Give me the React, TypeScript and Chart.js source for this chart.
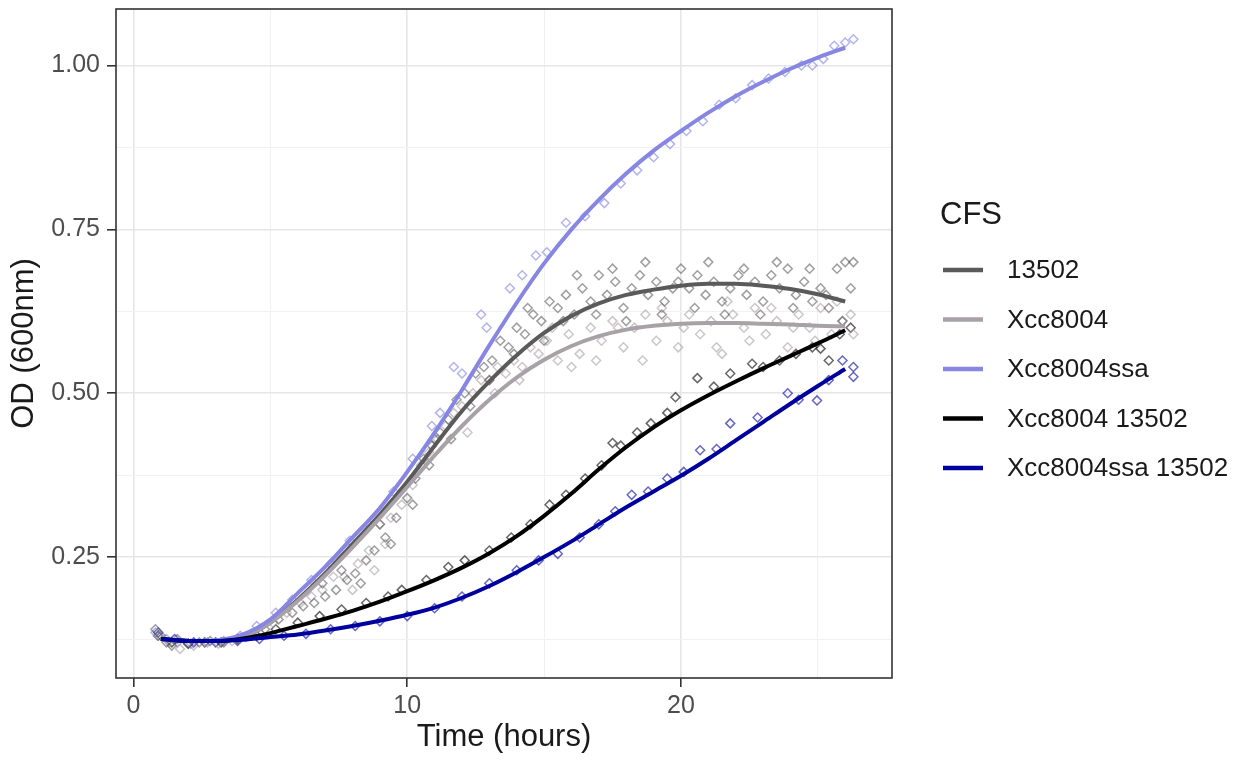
import React, { useEffect, useRef } from 'react';
import { Chart, registerables } from 'chart.js';

Chart.register(...registerables);

const FONT = '"Liberation Sans", Arial, Helvetica, sans-serif';

const seriesNames = ['13502', 'Xcc8004', 'Xcc8004ssa', 'Xcc8004 13502', 'Xcc8004ssa 13502'];
const lineColors = ['#5a5a5a', '#a9a1a8', '#8787e3', '#000000', '#00009e'];
const pointColors = [
  'rgba(80,80,80,0.55)',
  'rgba(160,152,158,0.55)',
  'rgba(130,130,225,0.6)',
  'rgba(0,0,0,0.6)',
  'rgba(0,0,160,0.6)',
];

const curveTimes = [1, 2, 3, 4, 5, 6, 7, 8, 9, 10, 11, 12, 13, 14, 15, 16, 17, 18, 19, 20, 21, 22, 23, 24, 25, 26];
const curve13502 = [0.125, 0.122, 0.122, 0.128, 0.15, 0.185, 0.225, 0.27, 0.315, 0.365, 0.42, 0.473, 0.518, 0.558, 0.592, 0.618, 0.637, 0.65, 0.658, 0.664, 0.667, 0.667, 0.664, 0.659, 0.651, 0.64];
const curveXcc8004 = [0.125, 0.122, 0.122, 0.128, 0.15, 0.183, 0.222, 0.265, 0.31, 0.357, 0.405, 0.45, 0.49, 0.524, 0.551, 0.572, 0.587, 0.597, 0.603, 0.606, 0.607, 0.607, 0.606, 0.605, 0.603, 0.602];
const curveXcc8004ssa = [0.125, 0.122, 0.123, 0.132, 0.155, 0.195, 0.235, 0.28, 0.325, 0.38, 0.44, 0.505, 0.573, 0.638, 0.698, 0.75, 0.795, 0.835, 0.87, 0.9, 0.928, 0.953, 0.975, 0.995, 1.012, 1.027];
const curveXcc8004_13502 = [0.125, 0.122, 0.122, 0.126, 0.134, 0.145, 0.156, 0.168, 0.182, 0.198, 0.215, 0.234, 0.256, 0.282, 0.313, 0.347, 0.384, 0.418, 0.448, 0.474, 0.497, 0.518, 0.538, 0.557, 0.576, 0.596];
const curveXcc8004ssa_13502 = [0.125, 0.122, 0.122, 0.124, 0.128, 0.132, 0.138, 0.145, 0.153, 0.162, 0.173, 0.188, 0.206, 0.227, 0.25, 0.274, 0.3, 0.326, 0.35, 0.374, 0.4, 0.428, 0.456, 0.484, 0.511, 0.537];

const points13502: [number, number][] = [
  [0.8, 0.14], [1.0, 0.13], [1.2, 0.12], [1.4, 0.115], [1.6, 0.125], [2.0, 0.118], [2.4, 0.12], [2.8, 0.122], [3.3, 0.12], [3.8, 0.125],
  [4.3, 0.13], [4.8, 0.14], [5.3, 0.155], [5.8, 0.165], [6.2, 0.175], [6.6, 0.18], [7.0, 0.19], [7.4, 0.2], [7.8, 0.215], [8.1, 0.225],
  [8.5, 0.245], [8.8, 0.26], [9.2, 0.28], [9.6, 0.31], [10.0, 0.34], [10.3, 0.37], [10.6, 0.4], [10.9, 0.42], [11.2, 0.44], [11.5, 0.46],
  [11.8, 0.49], [12.1, 0.5], [12.5, 0.53], [12.8, 0.54], [13.1, 0.55], [13.4, 0.58], [13.7, 0.57], [14.0, 0.6], [14.3, 0.59], [14.6, 0.62],
  [14.9, 0.61], [15.2, 0.64], [15.5, 0.63], [15.8, 0.65], [16.1, 0.62], [16.4, 0.66], [16.7, 0.64], [17.0, 0.68], [17.3, 0.65], [17.6, 0.67],
  [17.9, 0.63], [18.2, 0.66], [18.5, 0.68], [18.8, 0.65], [19.1, 0.67], [19.4, 0.64], [19.7, 0.66], [20.0, 0.69], [20.3, 0.66], [20.6, 0.68],
  [20.9, 0.65], [21.2, 0.67], [21.5, 0.64], [21.8, 0.66], [22.1, 0.68], [22.4, 0.65], [22.7, 0.67], [23.0, 0.64], [23.3, 0.68], [23.6, 0.66],
  [23.9, 0.69], [24.2, 0.65], [24.5, 0.67], [24.8, 0.64], [25.1, 0.66], [25.4, 0.63], [25.7, 0.69], [26.0, 0.7], [26.2, 0.66],
  [12.3, 0.48], [13.0, 0.52], [13.9, 0.56], [14.4, 0.63], [15.0, 0.58], [15.7, 0.61], [16.2, 0.68], [16.9, 0.62], [17.5, 0.69], [18.0, 0.61],
  [18.7, 0.7], [19.3, 0.62], [19.9, 0.67], [20.5, 0.63], [21.0, 0.7], [21.6, 0.62], [22.3, 0.69], [22.9, 0.62], [23.5, 0.7], [24.1, 0.63],
  [24.7, 0.69], [25.3, 0.65], [25.9, 0.61], [26.3, 0.7], [6.9, 0.21], [7.6, 0.23], [8.3, 0.21], [9.0, 0.3], [9.4, 0.27], [10.2, 0.33],
  [10.8, 0.39], [11.0, 0.43], [11.6, 0.43],
];

const pointsXcc8004: [number, number][] = [
  [0.9, 0.13], [1.3, 0.12], [1.7, 0.11], [2.2, 0.115], [2.6, 0.12], [3.1, 0.118], [3.6, 0.122], [4.1, 0.128], [4.6, 0.135], [5.1, 0.15],
  [5.6, 0.165], [6.1, 0.18], [6.5, 0.19], [6.9, 0.2], [7.3, 0.22], [7.7, 0.22], [8.2, 0.24], [8.6, 0.26], [9.0, 0.3], [9.4, 0.31],
  [9.8, 0.33], [10.2, 0.36], [10.5, 0.39], [10.8, 0.41], [11.1, 0.43], [11.4, 0.45], [11.7, 0.47], [12.0, 0.48], [12.4, 0.5], [12.7, 0.52],
  [13.0, 0.52], [13.3, 0.54], [13.6, 0.53], [13.9, 0.55], [14.2, 0.54], [14.5, 0.57], [14.8, 0.56], [15.1, 0.58], [15.5, 0.55], [15.9, 0.59],
  [16.3, 0.56], [16.7, 0.6], [17.1, 0.58], [17.5, 0.61], [17.9, 0.57], [18.3, 0.6], [18.7, 0.62], [19.1, 0.58], [19.5, 0.61], [19.9, 0.57],
  [20.3, 0.62], [20.7, 0.59], [21.1, 0.61], [21.5, 0.56], [21.9, 0.62], [22.3, 0.6], [22.7, 0.63], [23.1, 0.59], [23.5, 0.61], [23.9, 0.57],
  [24.3, 0.62], [24.7, 0.6], [25.1, 0.63], [25.5, 0.59], [25.9, 0.61], [26.2, 0.62],
  [12.2, 0.44], [13.2, 0.5], [14.1, 0.52], [15.3, 0.6], [16.0, 0.54], [16.9, 0.55], [17.7, 0.6], [18.6, 0.55], [19.3, 0.63], [20.1, 0.6],
  [21.3, 0.57], [21.7, 0.64], [22.5, 0.58], [23.3, 0.63], [24.1, 0.6], [24.9, 0.58], [25.7, 0.64], [26.3, 0.59], [8.0, 0.2], [8.8, 0.23],
  [9.2, 0.27],
];

const pointsXcc8004ssa: [number, number][] = [
  [0.8, 0.135], [1.2, 0.125], [1.6, 0.12], [2.1, 0.118], [2.7, 0.12], [3.3, 0.122], [3.9, 0.13], [4.5, 0.145], [5.2, 0.165], [5.8, 0.185],
  [6.5, 0.215], [7.2, 0.24], [7.9, 0.275], [8.6, 0.3], [9.5, 0.35], [10.2, 0.4], [10.9, 0.45], [11.2, 0.47], [11.7, 0.54], [12.0, 0.53],
  [12.7, 0.62], [12.9, 0.6], [13.75, 0.66], [14.2, 0.68], [14.7, 0.71], [15.1, 0.715], [15.8, 0.76], [16.5, 0.77], [17.2, 0.79], [17.8, 0.82],
  [18.4, 0.84], [19.0, 0.86], [19.6, 0.88], [20.2, 0.9], [20.8, 0.915], [21.4, 0.94], [22.0, 0.95], [22.6, 0.97], [23.2, 0.98], [23.8, 0.99],
  [24.4, 1.0], [24.8, 1.0], [25.2, 1.01], [25.6, 1.03], [26.0, 1.035], [26.3, 1.04],
];

const pointsXcc8004_13502: [number, number][] = [
  [0.9, 0.13], [1.4, 0.12], [2.0, 0.118], [2.6, 0.12], [3.2, 0.12], [3.8, 0.125], [4.5, 0.13], [5.2, 0.14], [6.0, 0.15], [6.8, 0.16],
  [7.6, 0.17], [8.5, 0.18], [9.3, 0.19], [9.8, 0.2], [10.7, 0.215], [11.5, 0.235], [12.1, 0.245], [13.0, 0.26], [13.8, 0.28], [14.5, 0.3],
  [15.2, 0.33], [15.8, 0.345], [16.5, 0.37], [17.1, 0.39], [17.5, 0.424], [17.8, 0.42], [18.4, 0.44], [18.9, 0.454], [19.5, 0.47], [19.8, 0.494],
  [20.6, 0.523], [21.2, 0.51], [21.8, 0.53], [22.6, 0.545], [23.0, 0.54], [23.6, 0.55], [24.2, 0.56], [24.8, 0.57], [25.1, 0.568], [25.4, 0.55],
  [25.8, 0.59], [26.2, 0.6],
];

const pointsXcc8004ssa_13502: [number, number][] = [
  [0.9, 0.135], [1.5, 0.125], [2.2, 0.12], [3.0, 0.12], [3.8, 0.122], [4.6, 0.125], [5.5, 0.13], [6.3, 0.133], [7.2, 0.14], [8.1, 0.145],
  [9.0, 0.152], [10.0, 0.16], [11.0, 0.172], [12.0, 0.19], [13.0, 0.21], [14.0, 0.23], [14.8, 0.245], [15.5, 0.255], [16.3, 0.28], [17.0, 0.3],
  [17.6, 0.32], [18.2, 0.345], [18.8, 0.35], [19.5, 0.37], [20.1, 0.38], [20.7, 0.413], [21.3, 0.415], [21.8, 0.454], [22.8, 0.463], [23.9, 0.5],
  [24.3, 0.49], [24.97, 0.489], [25.4, 0.52], [25.9, 0.55], [26.3, 0.54], [26.3, 0.525],
];

const curves = [curve13502, curveXcc8004, curveXcc8004ssa, curveXcc8004_13502, curveXcc8004ssa_13502];
const pointSets = [points13502, pointsXcc8004, pointsXcc8004ssa, pointsXcc8004_13502, pointsXcc8004ssa_13502];

const xTickValues = [0, 5, 10, 15, 20, 25];
const xTickLabels = ['0', '', '10', '', '20', ''];
const yTickValues = [0.125, 0.25, 0.375, 0.5, 0.625, 0.75, 0.875, 1.0];
const yTickLabels = ['', '0.25', '', '0.50', '', '0.75', '', '1.00'];

const xMin = -0.64;
const xMax = 27.71;
const yMin = 0.0656;
const yMax = 1.0861;

const framePlugin = {
  id: 'frameAndLegend',
  afterDraw(chart: any) {
    const { ctx, chartArea: a } = chart;
    ctx.save();
    ctx.strokeStyle = '#333333';
    ctx.lineWidth = 1.6;
    ctx.strokeRect(a.left, a.top, a.right - a.left, a.bottom - a.top);

    ctx.fillStyle = '#1a1a1a';
    ctx.textBaseline = 'middle';
    ctx.textAlign = 'left';
    ctx.font = `31px ${FONT}`;
    ctx.fillText('CFS', 940, 215);

    seriesNames.forEach((name, i) => {
      const y = 270 + i * 49.5;
      ctx.strokeStyle = lineColors[i];
      ctx.lineWidth = 4.5;
      ctx.beginPath();
      ctx.moveTo(943, y);
      ctx.lineTo(983, y);
      ctx.stroke();
      ctx.fillStyle = '#1a1a1a';
      ctx.font = `26px ${FONT}`;
      ctx.fillText(name, 1007, y + 1);
    });
    ctx.restore();
  },
};

export default function App() {
  const canvasRef = useRef<HTMLCanvasElement | null>(null);

  useEffect(() => {
    document.body.style.margin = '0';
    const canvas = canvasRef.current;
    if (!canvas) return;

    const lineDatasets = curves
      .map((c, i) => ({
        type: 'line' as const,
        label: seriesNames[i],
        data: curveTimes.map((t, j) => ({ x: t, y: c[j] })),
        borderColor: lineColors[i],
        backgroundColor: lineColors[i],
        borderWidth: 4,
        pointRadius: 0,
        fill: false,
        cubicInterpolationMode: 'monotone' as const,
        order: 0,
      }))
      .reverse();

    const pointDatasets = pointSets.map((ps, i) => ({
      type: 'scatter' as const,
      label: seriesNames[i] + ' points',
      data: ps.map(([t, v]) => ({ x: t, y: v })),
      showLine: false,
      pointStyle: 'rectRot' as const,
      pointRadius: 4.5,
      borderWidth: 1.5,
      borderColor: pointColors[i],
      backgroundColor: 'rgba(0,0,0,0)',
      order: 1,
    }));

    const chart = new Chart(canvas, {
      type: 'scatter',
      data: { datasets: [...lineDatasets, ...pointDatasets] as any },
      options: {
        responsive: false,
        animation: false,
        layout: { padding: { top: 9, right: 358, left: 0, bottom: 0 } },
        plugins: {
          legend: { display: false },
          tooltip: { enabled: false },
        },
        scales: {
          x: {
            type: 'linear',
            min: xMin,
            max: xMax,
            afterBuildTicks: (s: any) => {
              s.ticks = xTickValues.map((v) => ({ value: v }));
            },
            afterFit: (s: any) => {
              s.height = 84;
              s.paddingLeft = 0;
              s.paddingRight = 0;
            },
            ticks: {
              autoSkip: false,
              maxRotation: 0,
              padding: 4,
              color: '#4d4d4d',
              font: { family: FONT, size: 25 },
              callback: (_v: any, i: number) => xTickLabels[i],
            },
            grid: {
              color: (ctx: any) => (xTickLabels[ctx.index] ? '#e6e6e6' : '#f1f1f1'),
              lineWidth: (ctx: any) => (xTickLabels[ctx.index] ? 1.6 : 1),
              tickColor: (ctx: any) => (xTickLabels[ctx.index] ? '#333333' : 'rgba(0,0,0,0)'),
              tickLength: 9,
              tickWidth: 1.6,
              drawTicks: true,
            },
            border: { display: false },
            title: {
              display: true,
              text: 'Time (hours)',
              color: '#1a1a1a',
              font: { family: FONT, size: 31, lineHeight: 1.2 },
              padding: { top: 0, bottom: 6 },
            },
          },
          y: {
            type: 'linear',
            min: yMin,
            max: yMax,
            afterBuildTicks: (s: any) => {
              s.ticks = yTickValues.map((v) => ({ value: v }));
            },
            afterFit: (s: any) => {
              s.width = 116;
              s.paddingTop = 0;
              s.paddingBottom = 0;
            },
            ticks: {
              autoSkip: false,
              padding: 7,
              color: '#4d4d4d',
              font: { family: FONT, size: 25 },
              callback: (_v: any, i: number) => yTickLabels[i],
            },
            grid: {
              color: (ctx: any) => (yTickLabels[ctx.index] ? '#e6e6e6' : '#f1f1f1'),
              lineWidth: (ctx: any) => (yTickLabels[ctx.index] ? 1.6 : 1),
              tickColor: (ctx: any) => (yTickLabels[ctx.index] ? '#333333' : 'rgba(0,0,0,0)'),
              tickLength: 9,
              tickWidth: 1.6,
              drawTicks: true,
            },
            border: { display: false },
            title: {
              display: true,
              text: 'OD (600nm)',
              color: '#1a1a1a',
              font: { family: FONT, size: 31, lineHeight: 1.2 },
              padding: { top: 6, bottom: 0 },
            },
          },
        },
      },
      plugins: [framePlugin],
    });

    return () => {
      chart.destroy();
    };
  }, []);

  return (
    <div style={{ width: 1250, height: 762, background: '#ffffff' }}>
      <canvas ref={canvasRef} width={1250} height={762} style={{ display: 'block' }} />
    </div>
  );
}
